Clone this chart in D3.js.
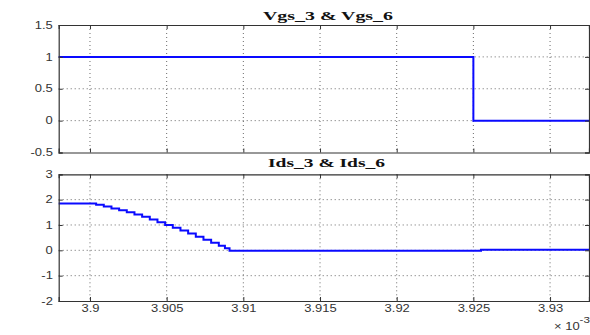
<!DOCTYPE html>
<html>
<head>
<meta charset="utf-8">
<script src="https://cdn.jsdelivr.net/npm/d3@7"></script>
<style>
  body { margin: 0; background: #fff; }
  .tick text { font-family: "Liberation Sans", Arial, sans-serif; font-size: 10px; fill: #333; }
  .title { font-family: "Liberation Serif", "Times New Roman", serif; font-size: 12px; font-weight: bold; fill: #111; }
</style>
</head>
<body>
<svg id="chart" width="590" height="335"></svg>
<script>
// time axis in units of 1e-3 s
const xDomain = [3.89796, 3.93254];
const xTicks = [3.9, 3.905, 3.91, 3.915, 3.92, 3.925, 3.93];

// Vgs_3 & Vgs_6
const vgsTimes = [3.89796, 3.925, 3.93254];
const vgsValues = [1, 0, 0];
const vgsTicks = [1.5, 1, 0.5, 0, -0.5];

// Ids_3 & Ids_6 (staircase)
const idsTimes = [3.89796, 3.9004, 3.9009, 3.9014, 3.9019, 3.9024, 3.9029, 3.9034, 3.9039, 3.9044,
  3.9049, 3.9054, 3.9059, 3.9064, 3.9069, 3.9074, 3.9079, 3.9084, 3.9088, 3.9091, 3.9255, 3.93254];
const idsValues = [1.85, 1.80, 1.73, 1.65, 1.58, 1.50, 1.41, 1.32, 1.22, 1.11,
  1.00, 0.89, 0.78, 0.66, 0.54, 0.42, 0.30, 0.18, 0.08, -0.02, 0.02, 0.02];
const idsTicks = [3, 2, 1, 0, -1, -2];

const svg = d3.select("#chart");
const left = 58.7, right = 589;
const stretch = 1.3; // labels in the original are drawn wide

let x = d3.scaleLinear().domain(xDomain).range([left, right]);
let fmt = d => String(d); // plain hyphen minus like matlab

function panel(top, bottom, yDomain, yTicks, times, values, title, titleX, titleY, titleW, showX) {
  let y = d3.scaleLinear().domain(yDomain).range([bottom, top]);
  let g = svg.append("g");

  // grid, dotted
  g.selectAll("line.gx").data(xTicks).enter().append("line")
    .attr("x1", d => x(d)).attr("x2", d => x(d))
    .attr("y1", top).attr("y2", bottom)
    .attr("stroke", "#444").attr("stroke-width", 0.8).attr("stroke-dasharray", "1,3");
  g.selectAll("line.gy").data(yTicks.slice(1, -1)).enter().append("line")
    .attr("x1", left).attr("x2", right)
    .attr("y1", d => y(d)).attr("y2", d => y(d))
    .attr("stroke", "#444").attr("stroke-width", 0.8).attr("stroke-dasharray", "1,3");

  // data line
  let line = d3.line().x((d, i) => x(times[i])).y(d => y(d)).curve(d3.curveStepAfter);
  g.append("path").datum(values)
    .attr("d", line).attr("fill", "none")
    .attr("stroke", "#0a0aff").attr("stroke-width", 2);

  // axes, matlab style with inward ticks on all sides
  let yAxis = d3.axisLeft(y).tickValues(yTicks).tickSize(-4).tickPadding(4.5).tickFormat(fmt);
  let ya = g.append("g").attr("transform", `translate(${left},0)`).call(yAxis);
  ya.selectAll(".tick text").attr("transform", `scale(${stretch},1)`);
  g.append("g").attr("transform", `translate(${right},0)`)
    .call(d3.axisRight(y).tickValues(yTicks).tickSize(-4).tickFormat(""));
  let xAxis = d3.axisBottom(x).tickValues(xTicks).tickSize(-4).tickPadding(3.5)
    .tickFormat(showX ? fmt : "");
  let xa = g.append("g").attr("transform", `translate(0,${bottom})`).call(xAxis);
  xa.selectAll(".tick text").attr("transform", `scale(${stretch},1)`);
  g.append("g").attr("transform", `translate(0,${top})`)
    .call(d3.axisTop(x).tickValues(xTicks).tickSize(-4).tickFormat(""));
  g.selectAll(".domain").attr("stroke", "#333").attr("stroke-width", 1.2);
  g.selectAll(".tick line").attr("stroke", "#333");

  g.append("text").attr("class", "title")
    .attr("x", titleX - titleW / 2).attr("y", titleY)
    .attr("textLength", titleW).attr("lengthAdjust", "spacingAndGlyphs")
    .text(title);
}

panel(25, 152.5, [-0.5, 1.5], vgsTicks, vgsTimes, vgsValues, "Vgs_3 & Vgs_6", 328, 19.5, 130, false);
panel(174.3, 301, [-2, 3], idsTicks, idsTimes, idsValues, "Ids_3 & Ids_6", 326.5, 167, 117, true);

// exponent label
let ex = svg.append("text").attr("x", 554).attr("y", 330)
  .attr("textLength", 36).attr("lengthAdjust", "spacingAndGlyphs")
  .style("font-family", "Liberation Sans, Arial, sans-serif").style("font-size", "10px").attr("fill", "#333");
ex.append("tspan").text("\u00d7 10");
ex.append("tspan").attr("dy", -7).attr("font-size", "9px").text("-3");
</script>
</body>
</html>
